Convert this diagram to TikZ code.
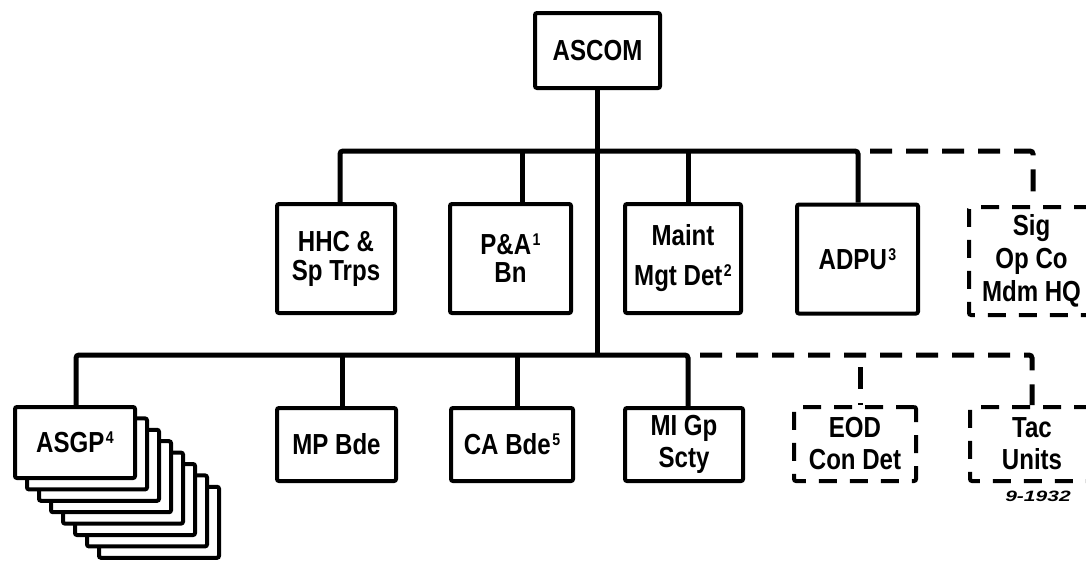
\documentclass[tikz,border=0pt]{standalone}
\usepackage{fontspec}
\setmainfont{Liberation Sans}
\newfontfamily\boxfont{Liberation Sans}[FakeStretch=0.83]
\newcommand{\supn}[1]{\kern1.5pt\raisebox{9pt}{\fontsize{17}{17}\selectfont #1}}
\begin{document}
\begin{tikzpicture}[x=1pt,y=-1pt,
  box/.style={draw, line width=4pt, rounded corners=2pt, fill=white, inner sep=0pt, align=center,
    font={\boxfont\bfseries\fontsize{29}{24}\selectfont}},
  dbox/.style={box, dash pattern=on 18pt off 13pt},
  conn/.style={line width=5pt, rounded corners=3pt},
  dconn/.style={line width=5pt, rounded corners=3pt, dash pattern=on 22pt off 14pt, dash phase=-12pt}]
\useasboundingbox (0,0) rectangle (1086,562);
\clip (0,0) rectangle (1086,562);

% top
\node[box, minimum width=125pt, minimum height=75pt] (ascom) at (597.5,50.5) {ASCOM};

% first row
\node[box, minimum width=118pt, minimum height=109pt] (hhc) at (336,258.5) {HHC \&\\[5pt]Sp Trps};
\node[box, minimum width=121pt, minimum height=109pt] (pa) at (510.5,258.5) {P\&A\supn{1}\\[4pt]Bn};
\node[box, minimum width=116pt, minimum height=109pt] (mm) at (683,258.5) {Maint\\[16pt]Mgt Det\supn{2}};
\node[box, minimum width=121pt, minimum height=109pt] (adpu) at (857.5,259) {ADPU\supn{3}};
\node[dbox, minimum width=125pt, minimum height=108pt] (sig) at (1031.5,261) {Sig\\[5pt]Op Co\\[5pt]Mdm HQ};

% ASGP stack
\foreach \i in {7,6,...,1}{
  \draw[line width=4pt, rounded corners=2pt, fill=white] (15+12*\i,407+11.4*\i) rectangle ++(120,71);
}
% second row
\node[box, minimum width=120pt, minimum height=71pt] (asgp) at (75,442.5) {ASGP\supn{4}};
\node[box, minimum width=119pt, minimum height=73pt] (mp) at (336.5,444.5) {MP Bde};
\node[box, minimum width=122pt, minimum height=73pt] (ca) at (512,444.5) {CA Bde\supn{5}};
\node[box, minimum width=118pt, minimum height=73pt] (mi) at (684,444.5) {MI Gp\\[4pt]Scty};
\node[dbox, minimum width=122pt, minimum height=74pt] (eod) at (855,444) {EOD\\[8pt]Con Det};
\node[dbox, minimum width=124pt, minimum height=74pt] (tac) at (1032,444) {Tac\\[8pt]Units};

\node[font={\itshape\bfseries\fontsize{15}{15}\selectfont}] (tag) at (1038,496) {\scalebox{1.4}[1]{9-1932}};

% bus coordinates
\coordinate (tb) at (597,151);
\coordinate (lb) at (597,355);

% connectors
\draw[conn] (ascom.south) -- (ascom.south |- lb);
\draw[conn] ([xshift=4pt]hhc.north) |- ([xshift=0.5pt]adpu.north |- tb) -- ([xshift=0.5pt]adpu.north);
\draw[conn] ([xshift=11.5pt]pa.north) -- ([xshift=11.5pt]pa.north |- tb);
\draw[conn] ([xshift=5pt]mm.north) -- ([xshift=5pt]mm.north |- tb);
\draw[dconn] ([xshift=0.5pt]adpu.north |- tb) -| ([xshift=1.5pt]sig.north);

\draw[conn] ([xshift=1pt]asgp.north) |- ([xshift=4pt]mi.north |- lb) -- ([xshift=4pt]mi.north);
\draw[conn] ([xshift=5.5pt]mp.north) -- ([xshift=5.5pt]mp.north |- lb);
\draw[conn] ([xshift=5pt]ca.north) -- ([xshift=5pt]ca.north |- lb);
\draw[dconn] ([xshift=4pt]mi.north |- lb) -| (tac.north);
\draw[dconn] ([xshift=5pt]eod.north |- lb) -- ([xshift=5pt]eod.north);
\end{tikzpicture}
\end{document}
